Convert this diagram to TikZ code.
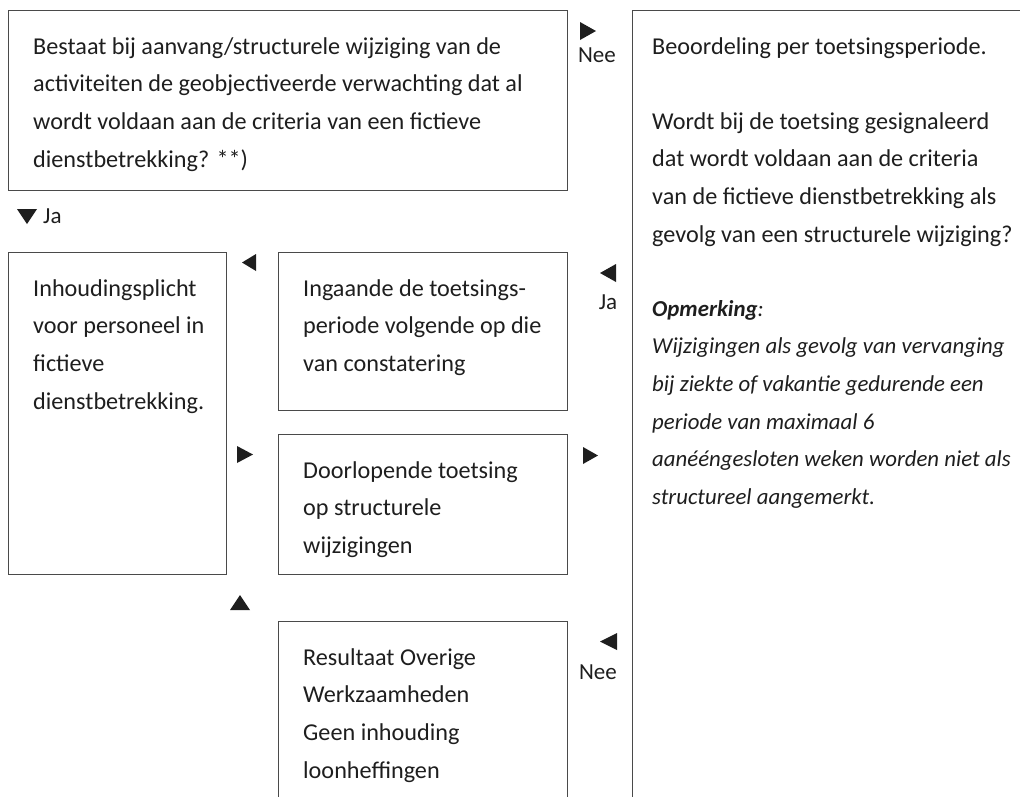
\documentclass[tikz,border=0pt]{standalone}
\usepackage{fontspec}
\setmainfont{Carlito}
\definecolor{textcol}{HTML}{1E1E1E}
\definecolor{linegray}{HTML}{4A4A4A}
\begin{document}
\begin{tikzpicture}[x=1pt,y=-1pt,
  box/.style={draw=linegray, line width=1.2pt, rectangle, inner sep=0pt, anchor=north west},
  txt/.style={anchor=north west, inner sep=0pt, align=left, font=\fontsize{24.2}{37.6}\selectfont, text=textcol},
  itxt/.style={txt, font=\fontsize{22.8}{37.6}\selectfont\itshape},
  lbl/.style={anchor=base, inner sep=0pt, font=\fontsize{23}{25}\selectfont, text=textcol},
  tri/.style={fill=textcol, draw=none}]
\useasboundingbox (0,0) rectangle (1020,796);
\clip (0,0) rectangle (1020,796);
% boxes
\node[box, minimum width=559pt, minimum height=180pt] (q) at (8,10) {};
\node[box, minimum width=420pt, minimum height=820pt] (r) at (632,10) {};
\node[box, minimum width=218pt, minimum height=322pt] (inh) at (8,252) {};
\node[box, minimum width=289pt, minimum height=158pt] (ing) at (278,252) {};
\node[box, minimum width=289pt, minimum height=140pt] (door) at (278,434) {};
\node[box, minimum width=289pt, minimum height=220pt] (res) at (278,621) {};
% texts
\node[txt] (tq) at (33,34) {\rule{0pt}{20pt}Bestaat bij aanvang/structurele wijziging van de\\activiteiten de geobjectiveerde verwachting dat al\\wordt voldaan aan de criteria van een fictieve\\dienstbetrekking? **)};
\node[txt] (tbeo) at (652,34) {\rule{0pt}{20pt}Beoordeling per toetsingsperiode.};
\node[txt] (twordt) at (652,109) {\rule{0pt}{20pt}Wordt bij de toetsing gesignaleerd\\dat wordt voldaan aan de criteria\\van de fictieve dienstbetrekking als\\gevolg van een structurele wijziging?};
\node[itxt] (topm) at (652,296) {\rule{0pt}{20pt}\textbf{Opmerking}:\\Wijzigingen als gevolg van vervanging\\bij ziekte of vakantie gedurende een\\periode van maximaal 6\\aanééngesloten weken worden niet als\\structureel aangemerkt.};
\node[txt] (tinh) at (33,276) {\rule{0pt}{20pt}Inhoudingsplicht\\voor personeel in\\fictieve\\dienstbetrekking.};
\node[txt] (ting) at (303,276) {\rule{0pt}{20pt}Ingaande de toetsings-\\periode volgende op die\\van constatering};
\node[txt] (tdoor) at (303,458) {\rule{0pt}{20pt}Doorlopende toetsing\\op structurele\\wijzigingen};
\node[txt] (tres) at (303,645) {\rule{0pt}{20pt}Resultaat Overige\\Werkzaamheden\\Geen inhouding\\loonheffingen};
% labels
\node[lbl] (nee1) at (597,62) {Nee};
\node[lbl, anchor=base west] (ja1) at (43,223) {Ja};
\node[lbl] (ja2) at (608,309) {Ja};
\node[lbl] (nee2) at (598,679) {Nee};
% triangles
\fill[tri] (580,22) -- (580,40) -- (596,31) -- cycle;
\fill[tri] (17,209) -- (37,209) -- (27,224) -- cycle;
\fill[tri] (256,254) -- (256,271) -- (242,262.5) -- cycle;
\fill[tri] (616,264) -- (616,282) -- (600,273) -- cycle;
\fill[tri] (237,446) -- (237,463) -- (253,454.5) -- cycle;
\fill[tri] (583,447) -- (583,464) -- (598,455.5) -- cycle;
\fill[tri] (230,610) -- (250,610) -- (240,595) -- cycle;
\fill[tri] (617,633) -- (617,650) -- (600,641.5) -- cycle;
\end{tikzpicture}
\end{document}
